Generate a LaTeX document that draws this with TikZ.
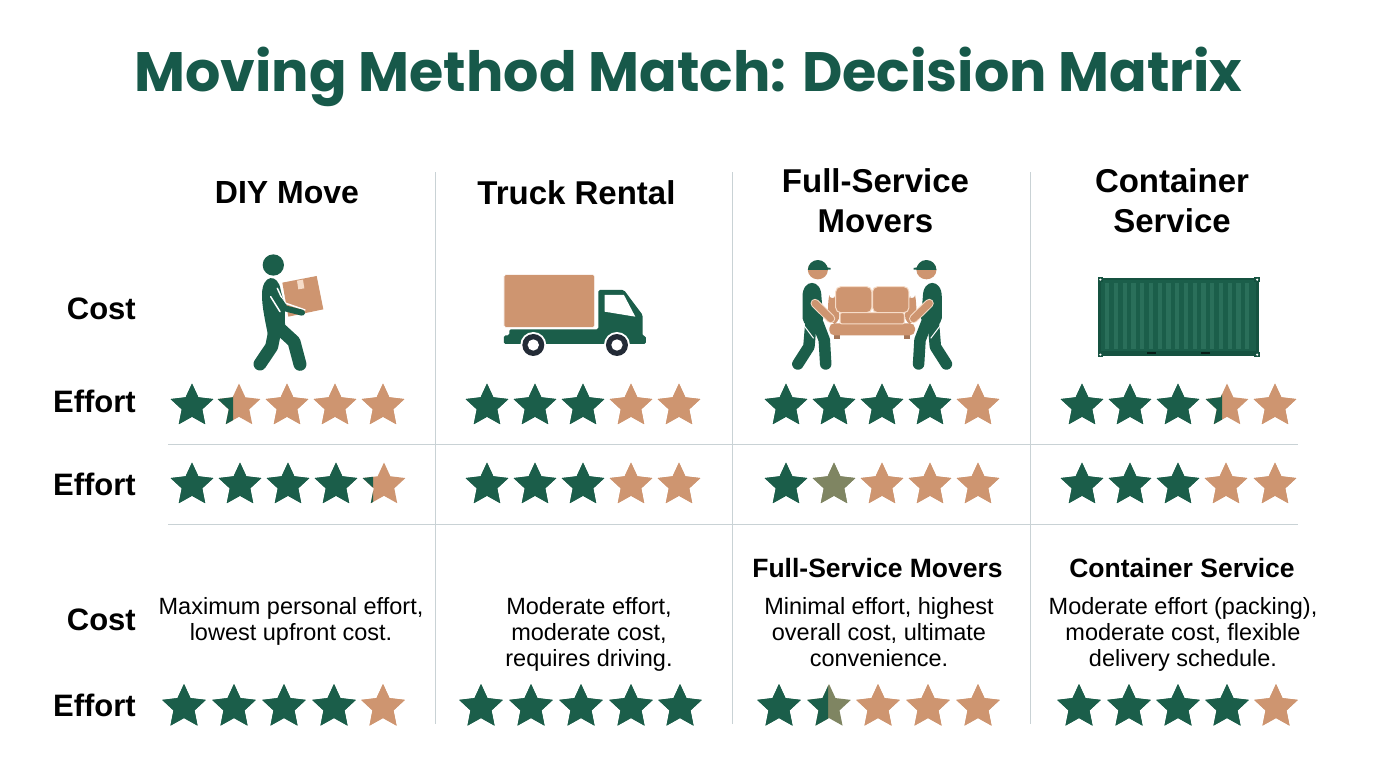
\documentclass[tikz,border=0pt]{standalone}
\usepackage{fontspec}
\setmainfont{Liberation Sans}
\newfontfamily\titlefont{Poppins}
\definecolor{gr}{HTML}{1B5E4A}
\definecolor{tn}{HTML}{CE9570}
\definecolor{ol}{HTML}{7F8562}
\definecolor{ttl}{HTML}{17594A}
\definecolor{rule}{HTML}{C9D2D5}
\definecolor{wh}{HTML}{232B36}
\definecolor{lgr}{HTML}{2A6F5A}
\definecolor{dgr}{HTML}{155240}
\definecolor{pale}{HTML}{F6DCC8}
\newcommand\starshape{(-90:1)--(-54:.48)--(-18:1)--(18:.48)--(54:1)--(90:.48)--(126:1)--(162:.48)--(198:1)--(234:.48)--cycle}
% cx cy R left right split
\newcommand\mstar[6]{%
  \fill[#5,shift={(#1,#2)},scale=#3] \starshape;
  \begin{scope}\clip (#1-40,#2-40) rectangle (#6,#2+40);
  \fill[#4,shift={(#1,#2)},scale=#3] \starshape;\end{scope}}
\newcommand\grstar[3]{\mstar{#1}{#2}{#3}{gr}{gr}{#1+40}}
\newcommand\tnstar[3]{\mstar{#1}{#2}{#3}{tn}{tn}{#1+40}}
\newcommand\moverman{%
  \draw[gr,line width=11.5pt,line cap=round,line join=round] (190,250)--(208,300)--(212,372);
  \draw[gr,line width=11.5pt,line cap=round,line join=round] (170,255)--(165,320)--(134,372);
  \draw[white,line width=1pt] (150,255)--(178,295);
  \fill[gr] (147,170) .. controls (147,115) and (200,115) .. (200,170) -- (205,235) .. controls (200,275) and (155,275) .. (147,235) -- cycle;
  \fill[tn] (190,90) circle (28);
  \fill[gr] (162,90) arc[start angle=180,end angle=360,x radius=28,y radius=30] -- cycle;
  \fill[gr] (205,80) -- (226,84) -- (226,89) -- (205,89) -- cycle;}
\tikzset{
  lab/.style={font=\bfseries\fontsize{31}{34}\selectfont,anchor=east,inner sep=0pt},
  head/.style={font=\bfseries\fontsize{33}{40}\selectfont,align=center,inner sep=0pt},
  sub/.style={font=\bfseries\fontsize{26.5}{30}\selectfont,inner sep=0pt},
  desc/.style={font=\fontsize{23.5}{26}\selectfont,align=center,inner sep=0pt},
  rl/.style={rule,line width=1pt}}
\begin{document}
\begin{tikzpicture}[x=1pt,y=-1pt]
\useasboundingbox (0,0) rectangle (1376,768);
\fill[white] (0,0) rectangle (1376,768);
% rules
\coordinate (v1t) at (435,172); \coordinate (v1b) at (435,724);
\coordinate (v2t) at (732,172); \coordinate (v2b) at (732,724);
\coordinate (v3t) at (1030,172); \coordinate (v3b) at (1030,724);
\coordinate (h1l) at (168,444); \coordinate (h1r) at (1298,444);
\coordinate (h2l) at (168,524); \coordinate (h2r) at (1298,524);
\draw[rl] (v1t)--(v1b); \draw[rl] (v2t)--(v2b); \draw[rl] (v3t)--(v3b);
\draw[rl] (h1l)--(h1r); \draw[rl] (h2l)--(h2r);
% title
\node[inner sep=0pt,text=ttl] (title) at (688.5,77) {\titlefont\bfseries\fontsize{55.5}{60}\selectfont Moving Method Match: Decision Matrix};
% headers
\node[head,font=\bfseries\fontsize{32}{40}\selectfont] (h1) at (287,193) {DIY Move};
\node[head] (h2) at (576.5,193) {Truck Rental};
\node[head] (h3) at (875.5,201) {Full-Service\\Movers};
\node[head] (h4) at (1172,201) {Container\\Service};
% row labels
\node[lab] (l1) at (136,309) {Cost};
\node[lab] (l2) at (136,401) {Effort};
\node[lab] (l3) at (136,484) {Effort};
\node[lab] (l4) at (136,620) {Cost};
\node[lab] (l5) at (136,705) {Effort};
% lower texts
\node[desc] (d1) at (291,621) {Maximum personal effort,\\lowest upfront cost.};
\node[desc] (d2) at (589,634) {Moderate effort,\\moderate cost,\\requires driving.};
\node[sub] (s3) at (877.5,568) {Full-Service Movers};
\node[desc] (d3) at (879,632) {Minimal effort, highest\\overall cost, ultimate\\convenience.};
\node[sub] (s4) at (1182,568) {Container Service};
\node[desc] (d4) at (1183,634) {Moderate effort (packing),\\moderate cost, flexible\\delivery schedule.};
% stars row 1
\grstar{192}{406}{22.5}\mstar{239}{406}{22.5}{gr}{tn}{233}\tnstar{287}{406}{22.5}\tnstar{335}{406}{22.5}\tnstar{383}{406}{22.5}
\grstar{487}{406}{22.5}\grstar{535}{406}{22.5}\grstar{583}{406}{22.5}\tnstar{631}{406}{22.5}\tnstar{679}{406}{22.5}
\grstar{786}{406}{22.5}\grstar{834}{406}{22.5}\grstar{882}{406}{22.5}\grstar{930}{406}{22.5}\tnstar{978}{406}{22.5}
\grstar{1082}{406}{22.5}\grstar{1130}{406}{22.5}\grstar{1178}{406}{22.5}\mstar{1227}{406}{22.5}{gr}{tn}{1222}\tnstar{1275}{406}{22.5}
% stars row 2
\grstar{192}{485}{22.5}\grstar{240}{485}{22.5}\grstar{288}{485}{22.5}\grstar{336}{485}{22.5}\mstar{384}{485}{22.5}{gr}{tn}{373}
\grstar{487}{485}{22.5}\grstar{535}{485}{22.5}\grstar{583}{485}{22.5}\tnstar{631}{485}{22.5}\tnstar{679}{485}{22.5}
\grstar{786}{485}{22.5}\mstar{834}{485}{22.5}{ol}{ol}{874}\tnstar{882}{485}{22.5}\tnstar{930}{485}{22.5}\tnstar{978}{485}{22.5}
\grstar{1082}{485}{22.5}\grstar{1130}{485}{22.5}\grstar{1178}{485}{22.5}\tnstar{1226}{485}{22.5}\tnstar{1275}{485}{22.5}
% stars row 3
\grstar{184}{707}{23}\grstar{234}{707}{23}\grstar{284}{707}{23}\grstar{334}{707}{23}\tnstar{383}{707}{23}
\grstar{481}{707}{23}\grstar{531}{707}{23}\grstar{581}{707}{23}\grstar{631}{707}{23}\grstar{680}{707}{23}
\grstar{779}{707}{23}\mstar{829}{707}{23}{gr}{ol}{828}\tnstar{878}{707}{23}\tnstar{928}{707}{23}\tnstar{978}{707}{23}
\grstar{1079}{707}{23}\grstar{1129}{707}{23}\grstar{1178}{707}{23}\grstar{1227}{707}{23}\tnstar{1276}{707}{23}
% person with box
\begin{scope}[shift={(170,240)},x=0.3333pt,y=-0.3333pt]
  \fill[tn] (337,128)--(440,108)--(460,208)--(355,230)--cycle;
  \fill[pale] (381,122)--(399,119)--(403,145)--(385,148)--cycle;
  \fill[gr] (310,75) circle (32);
  \draw[gr,line width=13pt,line cap=round,line join=round] (318,255)--(305,320)--(270,372);
  \draw[gr,line width=13pt,line cap=round,line join=round] (325,262)--(372,305)--(390,373);
  \fill[gr] (276,165) .. controls (276,100) and (325,100) .. (332,150) -- (345,200) -- (345,250) -- (350,285) -- (295,290) .. controls (285,240) and (276,200) .. (276,165) -- cycle;
  \draw[white,line width=1.5pt,line cap=round] (322,145)--(342,188)--(405,210);
  \draw[white,line width=1.5pt,line cap=round] (302,170)--(330,215);
  \draw[gr,line width=6pt,line cap=round,line join=round] (328,180)--(345,205)--(396,218);
\end{scope}
% truck
\begin{scope}[shift={(170,240)},x=0.3333pt,y=-0.3333pt]
  \fill[gr,rounded corners=1.5pt] (1285,150)--(1362,150)--(1418,225)--(1418,288)--(1428,288)--(1428,312)--(1002,312)--(1002,286)--(1018,286)--(1018,268)--(1285,268)--cycle;
  \fill[tn,draw=white,line width=.6pt,rounded corners=1.5pt] (1002,104)--(1274,104)--(1274,262)--(1002,262)--cycle;
  \fill[white] (1304,165)--(1362,165)--(1396,230)--(1304,215)--cycle;
  \foreach \wx in {1090,1341}{
    \fill[white] (\wx,315) circle (39);
    \fill[wh] (\wx,315) circle (33);
    \fill[white] (\wx,315) circle (17);}
\end{scope}
% movers
\begin{scope}[shift={(750,240)},x=0.35714pt,y=-0.3333pt]
  \moverman
  \begin{scope}[shift={(684,0)},x=-0.35714pt]\moverman\end{scope}
  \fill[tn!80!black] (236,285) rectangle (252,296);
  \fill[tn!80!black] (432,285) rectangle (448,296);
  \fill[tn,rounded corners=10pt] (216,195) .. controls (220,175) and (240,178) .. (248,195) -- (252,255) -- (222,255) -- cycle;
  \fill[tn,rounded corners=10pt] (468,195) .. controls (464,175) and (444,178) .. (436,195) -- (432,255) -- (462,255) -- cycle;
  \fill[tn,draw=pale,line width=1pt,rounded corners=5pt] (240,140)--(341,140)--(341,218)--(240,218)--cycle;
  \fill[tn,draw=pale,line width=1pt,rounded corners=5pt] (343,140)--(445,140)--(445,218)--(343,218)--cycle;
  \fill[tn,rounded corners=5pt] (222,250)--(462,250)--(462,286)--(222,286)--cycle;
  \fill[tn,draw=pale,line width=1pt,rounded corners=2pt] (252,218)--(432,218)--(432,252)--(252,252)--cycle;
  \draw[pale,line width=9pt,line cap=round] (182,190)--(226,236);
  \draw[tn,line width=7pt,line cap=round] (182,190)--(226,236);
  \draw[pale,line width=9pt,line cap=round] (502,190)--(458,236);
  \draw[tn,line width=7pt,line cap=round] (502,190)--(458,236);
\end{scope}
% container
\begin{scope}[shift={(750,240)},x=0.35714pt,y=-0.3333pt]
  \fill[gr] (975,115) rectangle (1425,348);
  \foreach \sx in {994,1019,1043,1068,1092,1117,1141,1166,1190,1215,1239,1264,1288,1313,1337,1362,1386}
    \fill[lgr] (\sx,128) rectangle (\sx+12,328);
  \fill[dgr] (975,115) rectangle (1425,120);
  \fill[dgr] (975,332) rectangle (1425,348);
  \fill[dgr] (975,115) rectangle (982,348);
  \fill[dgr] (1418,115) rectangle (1425,348);
  \foreach \cx/\cy in {981/119,1420/119,981/344,1420/344}{
    \fill[dgr] (\cx-8,\cy-8) rectangle (\cx+8,\cy+8);
    \fill[white] (\cx,\cy) circle (3.5);}
  \fill[black!70!gr] (1112,337) rectangle (1138,343);
  \fill[black!70!gr] (1262,337) rectangle (1288,343);
\end{scope}
\end{tikzpicture}
\end{document}
